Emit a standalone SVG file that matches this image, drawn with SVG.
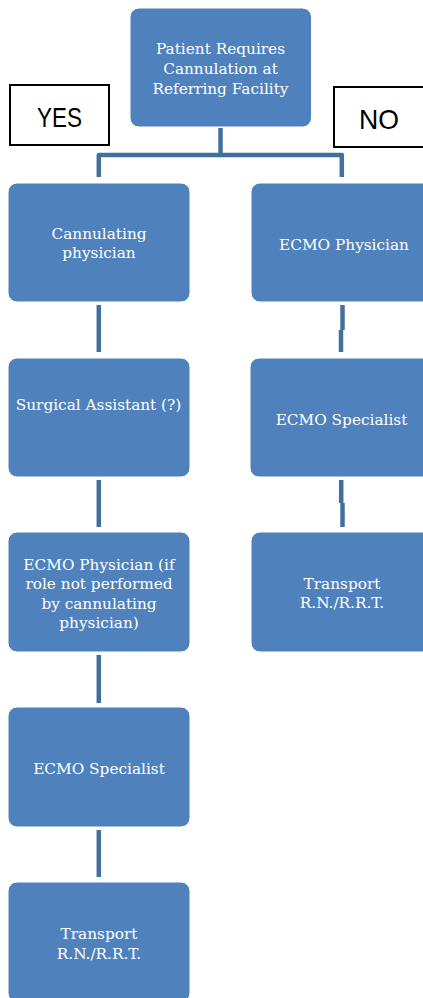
<svg xmlns="http://www.w3.org/2000/svg" width="423" height="998" viewBox="0 0 423 998">
<style>
.box{fill:#4F81BD;stroke:#ffffff;stroke-width:1}
.lbl{fill:#ffffff;font-family:"DejaVu Serif","Liberation Serif",serif;font-size:15.3px;text-anchor:middle}
.tag{fill:#ffffff;stroke:#000000;stroke-width:2}
.tagt{fill:#000000;font-family:"Liberation Sans",Arial,sans-serif;font-size:28px;text-anchor:middle}
.con{fill:none;stroke:#41709F;stroke-width:4.5;stroke-linejoin:round}
</style>
<rect width="423" height="998" fill="#ffffff"/>
<g id="connectors">
<path class="con" d="M220.5 128 V155 M98.8 177 V155 H341.8 V177"/>
<path class="con" d="M98.8 305 V352"/>
<path class="con" d="M98.8 480 V527"/>
<path class="con" d="M98.8 655 V703"/>
<path class="con" d="M98.8 830 V877"/>
<path class="con" d="M342.5 305 V330 M341 330 V352"/>
<path class="con" d="M341.2 480 V503 M342.5 503 V527"/>
</g>
<g id="yes">
<rect class="tag" x="10" y="85" width="99" height="60"/>
<text class="tagt" x="59.5" y="126.5" textLength="45" lengthAdjust="spacingAndGlyphs">YES</text>
</g>
<g id="no">
<rect class="tag" x="334" y="87" width="100" height="60"/>
<text class="tagt" x="379" y="128.5" textLength="40" lengthAdjust="spacingAndGlyphs">NO</text>
</g>
<g id="root">
<rect class="box" x="130" y="8" width="181.5" height="119" rx="9"/>
<text class="lbl" x="220.5" y="54">Patient Requires</text>
<text class="lbl" x="220.5" y="74">Cannulation at</text>
<text class="lbl" x="220.5" y="94">Referring Facility</text>
</g>
<g id="cannulating">
<rect class="box" x="8" y="183" width="182" height="119" rx="9"/>
<text class="lbl" x="99" y="238.5">Cannulating</text>
<text class="lbl" x="99" y="258">physician</text>
</g>
<g id="surgical">
<rect class="box" x="8" y="358" width="182" height="119" rx="9"/>
<text class="lbl" x="98.5" y="410">Surgical Assistant (?)</text>
</g>
<g id="ecmo-phys-left">
<rect class="box" x="8" y="532" width="182" height="120" rx="9"/>
<text class="lbl" x="99" y="569.5">ECMO Physician (if</text>
<text class="lbl" x="99" y="589">role not performed</text>
<text class="lbl" x="99" y="608.5">by cannulating</text>
<text class="lbl" x="99" y="628">physician)</text>
</g>
<g id="ecmo-spec-left">
<rect class="box" x="8" y="707" width="182" height="120" rx="9"/>
<text class="lbl" x="99" y="773.5">ECMO Specialist</text>
</g>
<g id="transport-left">
<rect class="box" x="8" y="882" width="182" height="120" rx="9"/>
<text class="lbl" x="99" y="939">Transport</text>
<text class="lbl" x="99" y="958.5">R.N./R.R.T.</text>
</g>
<g id="ecmo-phys-right">
<rect class="box" x="251" y="183" width="182" height="119" rx="9"/>
<text class="lbl" x="344" y="249.5">ECMO Physician</text>
</g>
<g id="ecmo-spec-right">
<rect class="box" x="250" y="358" width="182" height="119" rx="9"/>
<text class="lbl" x="341.5" y="424.5">ECMO Specialist</text>
</g>
<g id="transport-right">
<rect class="box" x="251" y="532" width="182" height="120" rx="9"/>
<text class="lbl" x="342" y="588.5">Transport</text>
<text class="lbl" x="342" y="608">R.N./R.R.T.</text>
</g>
</svg>
